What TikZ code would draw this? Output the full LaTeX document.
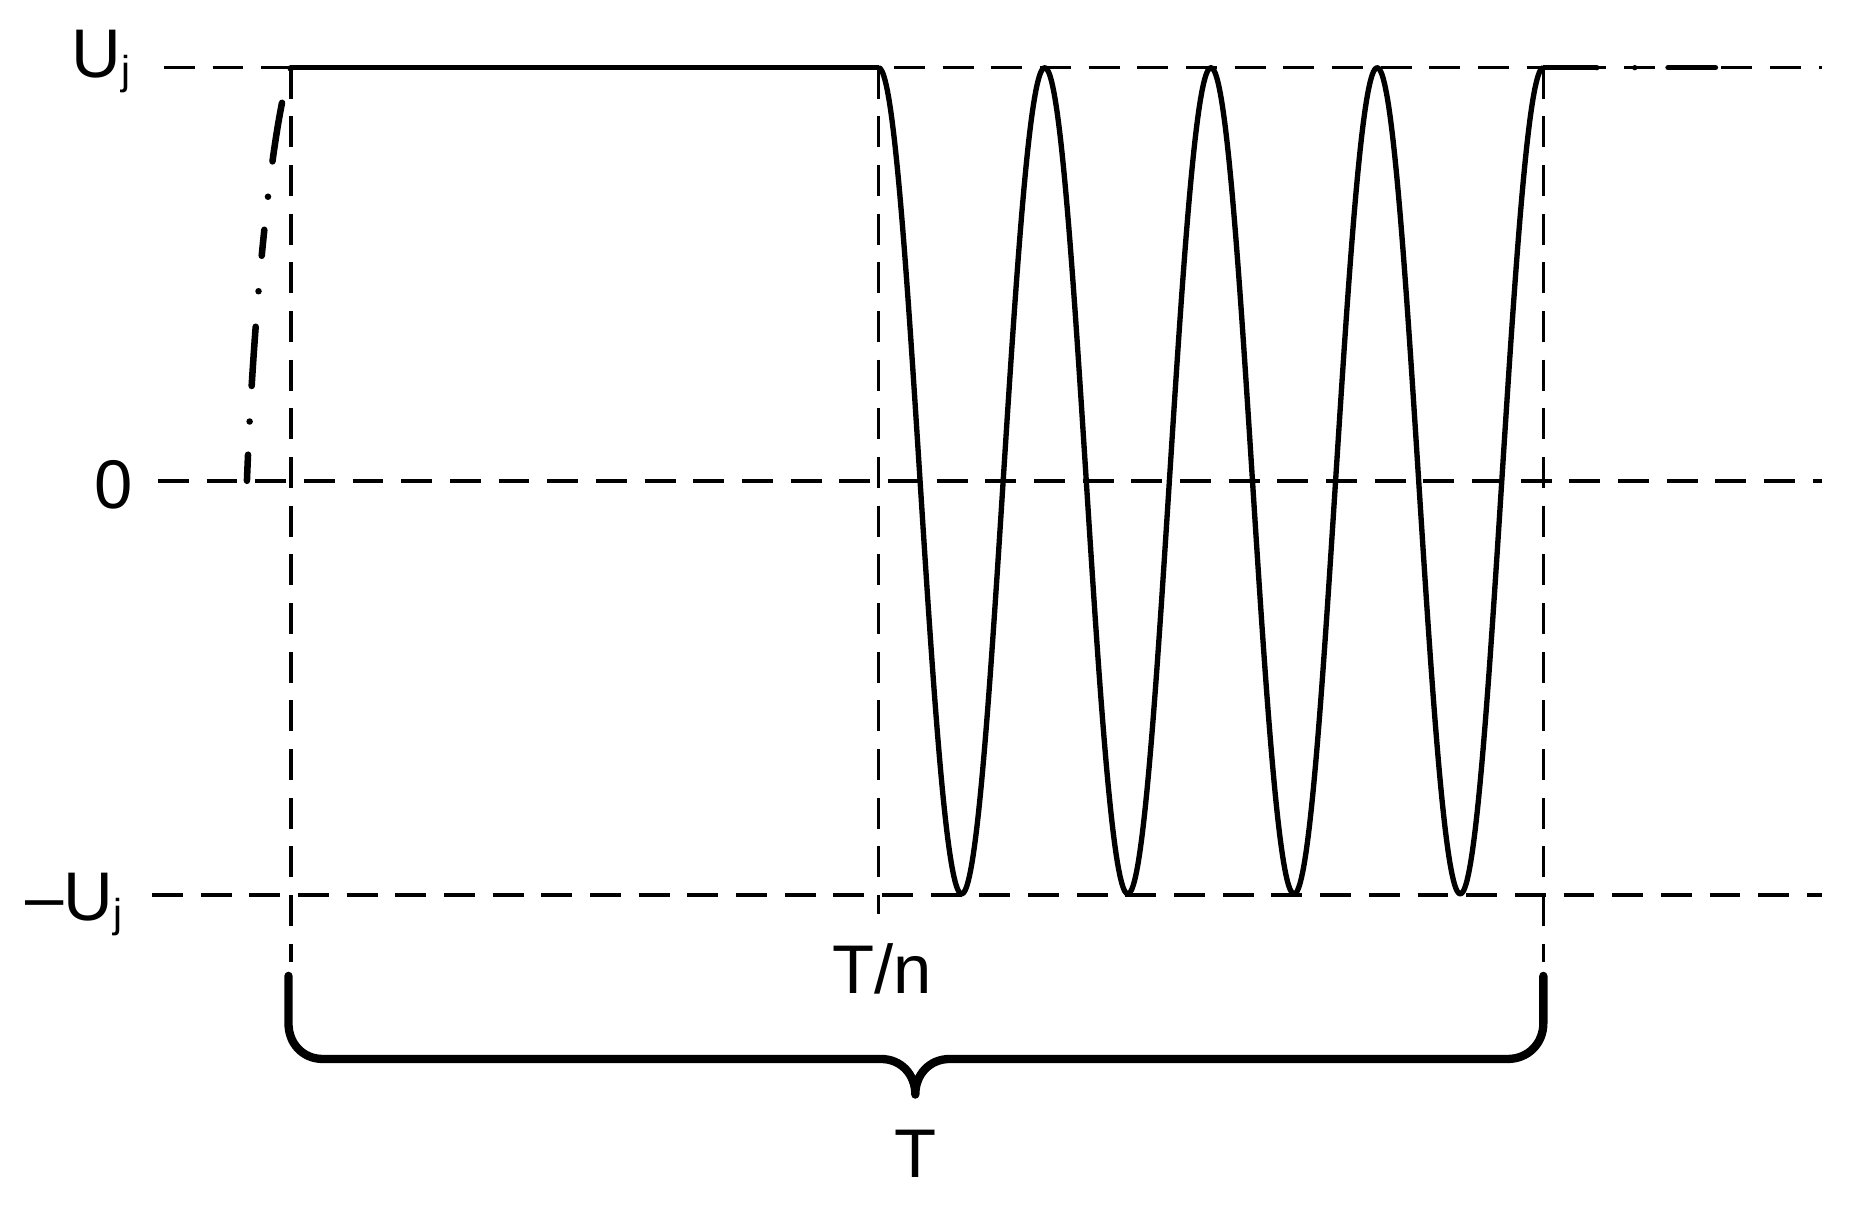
\documentclass[tikz,border=0pt]{standalone}
\usepackage{fontspec}
\setmainfont{Liberation Sans}
\begin{document}
\begin{tikzpicture}[x=1pt,y=-1pt,
  guide/.style={line width=3pt,dash pattern=on 26pt off 15pt},
  wave/.style={line width=4.5pt,line join=round},
  lbl/.style={font=\fontsize{58}{60}\selectfont,inner sep=0pt}]
\useasboundingbox (0,0) rectangle (1560,1017.5);
% guides
\draw[guide] (138,57) -- (1535,57);
\draw[guide] (133,405) -- (1535,405);
\draw[guide] (128,754) -- (1535,754);
\draw[guide] (245,57) -- (245,810);
\draw[guide] (740,57) -- (740,770);
\draw[guide] (1300,57) -- (1300,810);
% labels
\node[lbl] (uj) at (85,52) {U\raisebox{-0.1em}{\fontsize{34}{36}\selectfont j}};
\node[lbl] (zero) at (96,408) {0};
\node[lbl] (muj) at (62,762) {–U\raisebox{-0.1em}{\fontsize{34}{36}\selectfont j}};
\node[lbl] (tn) at (743,816) {T/n};
\node[lbl] (t) at (771,972) {T};
% waveform
\draw[wave] (245,57) -- (740,57);
\draw[wave] plot[domain=0:4,samples=400,smooth] ({740+140*\x},{405-348*cos(360*\x)});
\draw[wave] (1300,57) -- (1345,57);
\draw[wave,line cap=round,dash pattern=on 0pt off 32pt on 0pt off 28pt on 40pt off 28pt] (1345,57) -- (1445,57);
\draw[line width=5.5pt,line cap=round,dash pattern=on 22pt off 28pt on 0pt off 30pt on 50pt off 30pt on 0pt off 30pt]
  (208,405) .. controls (214,250) and (230,100) .. (245,57);
% brace
\coordinate (bl) at (243,822);
\coordinate (br) at (1300,822);
\coordinate (tip) at (771,922);
\draw[line width=7pt,line cap=round,line join=round]
  (bl) -- (243,862) .. controls (243,879) and (255,892) .. (272,892) -- (742,892)
  .. controls (759,892) and (771,905) .. (tip)
  .. controls (771,905) and (783,892) .. (800,892) -- (1270,892)
  .. controls (1287,892) and (1300,879) .. (1300,862) -- (br);
\end{tikzpicture}
\end{document}
